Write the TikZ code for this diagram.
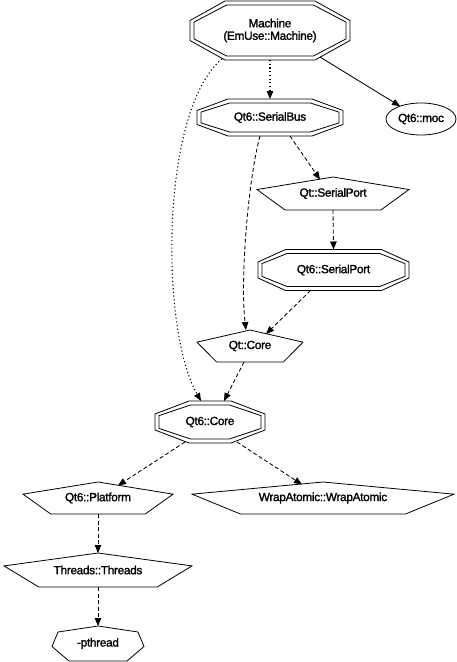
\documentclass[tikz,border=0pt]{standalone}
\usepackage{fontspec}
\setmainfont{Liberation Sans}
\newfontfamily\lblfont[FakeBold=1.6, LetterSpace=-2.5]{Liberation Sans}
\usetikzlibrary{arrows.meta,shapes.geometric}

% outline of a graphviz pentagon round a node: node, half width, half height
\newcommand{\pentout}[3]{%
  \draw[outline, shift={(#1.center)}] (0,-#3) -- (#2,{-0.24*#3}) -- ({0.63*#2},#3)
    -- ({-0.63*#2},#3) -- (-#2,{-0.24*#3}) -- cycle;}
% double octagon round a node: node, half width, half height, half top edge, half side edge
\newcommand{\octout}[5]{%
  \draw[outline, shift={(#1.center)}] (-#4,-#3) -- (#4,-#3) -- (#2,-#5) -- (#2,#5)
    -- (#4,#3) -- (-#4,#3) -- (-#2,#5) -- (-#2,-#5) -- cycle;
  \draw[outline, shift={(#1.center)}] ({-(#4-1.6)},{-(#3-4)}) -- ({#4-1.6},{-(#3-4)})
    -- ({#2-4},{-(#5-1.6)}) -- ({#2-4},{#5-1.6}) -- ({#4-1.6},{#3-4}) -- ({-(#4-1.6)},{#3-4})
    -- ({-(#2-4)},{#5-1.6}) -- ({-(#2-4)},{-(#5-1.6)}) -- cycle;}

\begin{document}
\begin{tikzpicture}[
  x=1pt, y=-1pt,
  lbl/.style={inner sep=0pt, outer sep=0pt, align=center, font=\lblfont\fontsize{11.8}{12.5}\selectfont},
  outline/.style={line width=0.8pt},
  dep/.style={-{Triangle[length=8pt,width=6.5pt]}, line width=0.85pt},
  pub/.style={dep},
  priv/.style={dep, dash pattern=on 4pt off 2.5pt},
  iface/.style={dep, line width=1.1pt, dash pattern=on 1.1pt off 2.6pt}
]
\useasboundingbox (0,0) rectangle (456,662);

% targets
\node[lbl, minimum width=160pt, minimum height=59pt] (mach) at (270,30.5) {Machine\\(EmUse::Machine)};
\node[lbl, minimum width=146pt, minimum height=37pt] (bus) at (270,117.5) {Qt6::SerialBus};
\node[lbl, draw, ellipse, line width=0.8pt, minimum width=70pt, minimum height=32pt] (moc) at (421,119) {Qt6::moc};
\node[lbl, minimum width=152pt, minimum height=33pt] (qtsp) at (333,193.5) {Qt::SerialPort};
\node[lbl, minimum width=151pt, minimum height=41pt] (sp) at (333.5,270) {Qt6::SerialPort};
\node[lbl, minimum width=106pt, minimum height=32pt] (qtcore) at (250,346) {Qt::Core};
\node[lbl, minimum width=110pt, minimum height=42pt] (core) at (210,422) {Qt6::Core};
\node[lbl, minimum width=150pt, minimum height=32pt] (plat) at (98,498) {Qt6::Platform};
\node[lbl, minimum width=262pt, minimum height=32pt] (wrap) at (323,498) {WrapAtomic::WrapAtomic};
\node[lbl, minimum width=188pt, minimum height=34pt] (thr) at (98,570) {Threads::Threads};
\node[lbl, minimum width=92pt, minimum height=35pt] (pth) at (98,643.5) {-pthread};

% outlines
\octout{mach}{80}{29.5}{45}{10}
\octout{bus}{73}{18.5}{42}{7}
\octout{sp}{75.5}{20.5}{48}{8}
\octout{core}{55}{21}{21}{8}
\pentout{qtsp}{76}{16.5}
\pentout{qtcore}{53}{16}
\pentout{plat}{75}{16}
\pentout{wrap}{131}{16}
\pentout{thr}{94}{17}
\draw[outline, shift={(pth.center)}] (0,-17.5) -- (40,-11.5) -- (46,3) -- (29,17.5)
  -- (-29,17.5) -- (-46,3) -- (-40,-11.5) -- cycle;

% dependencies
\draw[iface] (mach.south) -- (bus.north);
\draw[pub] ([shift={(50,-3)}]mach.south) -- (moc);
\draw[iface] ([shift={(-48,-1)}]mach.south) .. controls (160,110) and (160,330) .. ([xshift=-9]core.north);
\draw[priv] ([xshift=20]bus.south) -- ([shift={(-13,2.5)}]qtsp.north);
\draw[priv] ([xshift=-10]bus.south) .. controls (248,180) and (240,280) .. ([xshift=-4]qtcore.north);
\draw[priv] (qtsp.south) -- (sp.north);
\draw[priv] ([xshift=-23]sp.south) -- ([shift={(16,4)}]qtcore.north);
\draw[priv] ([xshift=-6]qtcore.south) -- ([xshift=14]core.north);
\draw[priv] ([shift={(-25,-1)}]core.south) -- ([shift={(20,3.5)}]plat.north);
\draw[priv] ([shift={(27,-1)}]core.south) -- ([shift={(-21,2.5)}]wrap.north);
\draw[priv] (plat.south) -- (thr.north);
\draw[priv] (thr.south) -- (pth.north);
\end{tikzpicture}
\end{document}
